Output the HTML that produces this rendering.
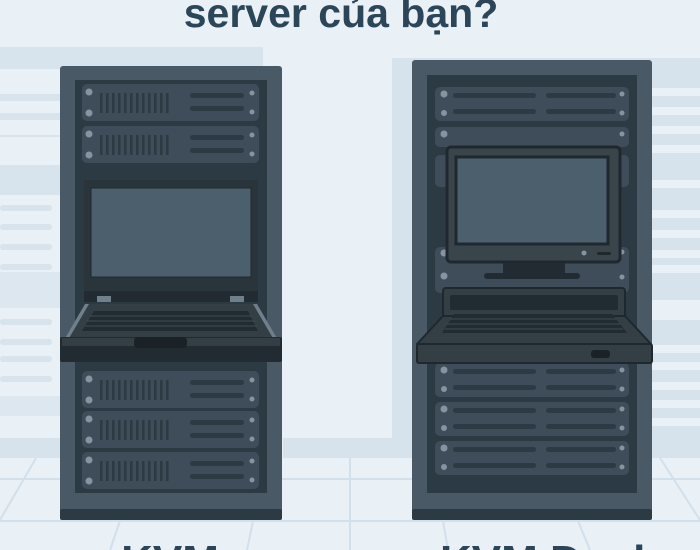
<!DOCTYPE html>
<html><head><meta charset="utf-8"><style>
html,body{margin:0;padding:0;width:700px;height:550px;overflow:hidden;background:#e9f0f6}
svg{display:block;overflow:hidden}
text{font-family:"Liberation Sans","DejaVu Sans",sans-serif;font-weight:bold;fill:#2b4559}
</style></head><body>
<svg width="700" height="550" viewBox="0 0 700 550" xmlns="http://www.w3.org/2000/svg">
<defs>
<pattern id="vent" x="100" y="0" width="6" height="10" patternUnits="userSpaceOnUse">
<rect x="0" y="0" width="2.6" height="10" fill="#2c3a44"/>
</pattern>
</defs>
<rect width="700" height="550" fill="#e9f0f6"/>
<rect x="0" y="47" width="263" height="22" fill="#d7e3ed"/>
<rect x="0" y="94" width="60" height="7" fill="#d7e3ed"/>
<rect x="0" y="113" width="60" height="7" fill="#d7e3ed"/>
<rect x="0" y="135" width="60" height="2" fill="#d7e3ed"/>
<rect x="0" y="165" width="60" height="30" fill="#d7e3ed"/>
<rect x="0" y="205" width="52" height="6" rx="3" fill="#d7e3ed"/>
<rect x="0" y="224" width="52" height="6" rx="3" fill="#d7e3ed"/>
<rect x="0" y="244" width="52" height="6" rx="3" fill="#d7e3ed"/>
<rect x="0" y="264" width="52" height="6" rx="3" fill="#d7e3ed"/>
<rect x="0" y="272" width="60" height="36" fill="#dde7f0"/>
<rect x="0" y="319" width="52" height="6" rx="3" fill="#d7e3ed"/>
<rect x="0" y="339" width="52" height="6" rx="3" fill="#d7e3ed"/>
<rect x="0" y="356" width="52" height="6" rx="3" fill="#d7e3ed"/>
<rect x="0" y="376" width="52" height="6" rx="3" fill="#d7e3ed"/>
<rect x="0" y="396" width="60" height="20" fill="#dde7f0"/>
<rect x="392" y="58" width="308" height="380" fill="#d6e3ed"/>
<rect x="283" y="438" width="417" height="20" fill="#d6e3ed"/>
<rect x="0" y="438" width="60" height="20" fill="#d6e3ed"/>
<g fill="#e9f0f6">
<rect x="652" y="88" width="48" height="8"/><rect x="652" y="107" width="48" height="8"/>
<rect x="652" y="126" width="48" height="8"/><rect x="652" y="145" width="48" height="8"/>
<rect x="652" y="180" width="48" height="8"/><rect x="652" y="210" width="48" height="8"/>
<rect x="652" y="230" width="48" height="8"/><rect x="652" y="250" width="48" height="8"/>
<rect x="652" y="265" width="48" height="8"/><rect x="652" y="300" width="48" height="20"/>
<rect x="652" y="345" width="48" height="8"/><rect x="652" y="362" width="48" height="8"/>
<rect x="652" y="382" width="48" height="8"/><rect x="652" y="400" width="48" height="8"/>
<rect x="652" y="418" width="48" height="8"/>
</g>
<g stroke="#d2e0ec" stroke-width="2" fill="none">
<line x1="0" y1="479" x2="700" y2="479"/>
<line x1="0" y1="521" x2="700" y2="521"/>
<line x1="350" y1="458" x2="350" y2="550"/>
<line x1="36" y1="458" x2="0" y2="520"/>
<line x1="120" y1="521" x2="110" y2="550"/>
<line x1="253" y1="521" x2="247" y2="550"/>
<line x1="443" y1="521" x2="448" y2="550"/>
<line x1="578" y1="521" x2="590" y2="550"/>
<line x1="660" y1="458" x2="700" y2="520"/>
</g>
<text x="341" y="27" font-size="41" text-anchor="middle">server của bạn?</text>

<rect x="60" y="66" width="222" height="454" rx="3" fill="#4a5966"/>
<rect x="75" y="80" width="192" height="413" fill="#2c3a44"/>
<rect x="60" y="509" width="222" height="11" rx="2" fill="#2c3a44"/>
<g id="lu">
<rect x="82" y="84" width="177" height="37" rx="5" fill="#3e4d59"/>
<rect x="100" y="93" width="72" height="20" fill="url(#vent)"/>
<rect x="190" y="93" width="54" height="5" rx="2.5" fill="#2c3a44"/>
<rect x="190" y="106" width="54" height="5" rx="2.5" fill="#2c3a44"/>
<circle cx="89" cy="92" r="3.5" fill="#8594a0"/><circle cx="89" cy="113" r="3.5" fill="#8594a0"/>
<circle cx="252" cy="93" r="2.5" fill="#8594a0"/><circle cx="252" cy="112" r="2.5" fill="#8594a0"/>
</g>
<use href="#lu" y="42"/>
<use href="#lu" y="287"/>
<use href="#lu" y="327"/>
<use href="#lu" y="368"/>
<rect x="84" y="180" width="174" height="122" rx="2" fill="#2a343b"/>
<rect x="91" y="188" width="160" height="89" fill="#4b5f6d" stroke="#1f282e" stroke-width="1"/>
<rect x="84" y="291" width="174" height="11" fill="#222b31"/>
<rect x="97" y="296" width="14" height="6" fill="#6f7f8b"/>
<rect x="230" y="296" width="14" height="6" fill="#6f7f8b"/>
<polygon points="85,304 257,304 278,340 64,340" fill="#333e45"/>
<polygon points="85,304 89,304 68,340 64,340" fill="#6f7f8b"/>
<polygon points="253,304 257,304 278,340 274,340" fill="#6f7f8b"/>
<polygon points="94,311 248,311 258,331 82,331" fill="#222b31"/>
<g stroke="#3f4b53" stroke-width="1">
<line x1="90" y1="316" x2="252" y2="316"/><line x1="87" y1="321" x2="255" y2="321"/><line x1="85" y1="326" x2="257" y2="326"/>
</g>
<rect x="60" y="337" width="222" height="25" rx="2" fill="#222b31"/>
<rect x="62" y="338" width="218" height="8" fill="#333e45"/>
<rect x="134" y="337" width="53" height="11" rx="4" fill="#1a2227"/>

<rect x="412" y="60" width="240" height="460" rx="3" fill="#4a5966"/>
<rect x="427" y="75" width="210" height="418" fill="#2c3a44"/>
<rect x="412" y="509" width="240" height="11" rx="2" fill="#2c3a44"/>
<g id="ru">
<rect x="435" y="87" width="194" height="34" rx="5" fill="#3e4d59"/>
<rect x="453" y="93" width="83" height="5" rx="2.5" fill="#2c3a44"/>
<rect x="546" y="93" width="70" height="5" rx="2.5" fill="#2c3a44"/>
<rect x="453" y="109" width="83" height="5" rx="2.5" fill="#2c3a44"/>
<rect x="546" y="109" width="70" height="5" rx="2.5" fill="#2c3a44"/>
<circle cx="444" cy="94" r="3.5" fill="#8594a0"/><circle cx="444" cy="113" r="3" fill="#8594a0"/>
<circle cx="622" cy="94" r="2.5" fill="#8594a0"/><circle cx="622" cy="113" r="2.5" fill="#8594a0"/>
</g>
<rect x="435" y="127" width="194" height="20" rx="5" fill="#3e4d59"/>
<circle cx="444" cy="134" r="3.5" fill="#8594a0"/><circle cx="622" cy="134" r="2.5" fill="#8594a0"/>
<rect x="435" y="155" width="194" height="32" rx="5" fill="#3e4d59"/>
<rect x="435" y="247" width="194" height="32" rx="5" fill="#3e4d59"/>
<circle cx="444" cy="253" r="3.5" fill="#8594a0"/><circle cx="622" cy="252" r="2.5" fill="#8594a0"/>
<rect x="435" y="271" width="194" height="22" rx="5" fill="#3e4d59"/>
<circle cx="444" cy="276" r="3.5" fill="#8594a0"/><circle cx="622" cy="277" r="2.5" fill="#8594a0"/>
<use href="#ru" y="276"/>
<use href="#ru" y="315"/>
<use href="#ru" y="354"/>
<rect x="447" y="147" width="173" height="115" rx="4" fill="#3a444b" stroke="#1f282e" stroke-width="3"/>
<rect x="456" y="157" width="152" height="87" fill="#4b5f6d" stroke="#1f282e" stroke-width="3"/>
<circle cx="584" cy="253" r="2.5" fill="#8594a0"/>
<rect x="597" y="252" width="14" height="3" rx="1.5" fill="#1f282e"/>
<rect x="503" y="263" width="62" height="12" fill="#222b31"/>
<rect x="484" y="273" width="96" height="6" rx="3" fill="#222b31"/>
<rect x="443" y="288" width="182" height="30" rx="3" fill="#333e45" stroke="#1f282e" stroke-width="2"/>
<rect x="450" y="295" width="168" height="15" rx="2" fill="#222b31"/>
<polygon points="443,316 625,316 651,344 417,344" fill="#333e45" stroke="#1f282e" stroke-width="2" stroke-linejoin="round"/>
<polygon points="454,314 612,314 627,333 442,333" fill="#222b31"/>
<g stroke="#3f4b53" stroke-width="1">
<line x1="450" y1="319" x2="616" y2="319"/><line x1="447" y1="324" x2="620" y2="324"/><line x1="445" y1="329" x2="623" y2="329"/>
</g>
<rect x="417" y="344" width="235" height="19" rx="2" fill="#333e45" stroke="#1f282e" stroke-width="2"/>
<rect x="591" y="350" width="19" height="8" rx="3" fill="#1a2227"/>

<text x="170" y="576" font-size="44" text-anchor="middle">KVM</text>
<text x="440" y="576" font-size="44">KVM Dual</text>
</svg>
</body></html>
